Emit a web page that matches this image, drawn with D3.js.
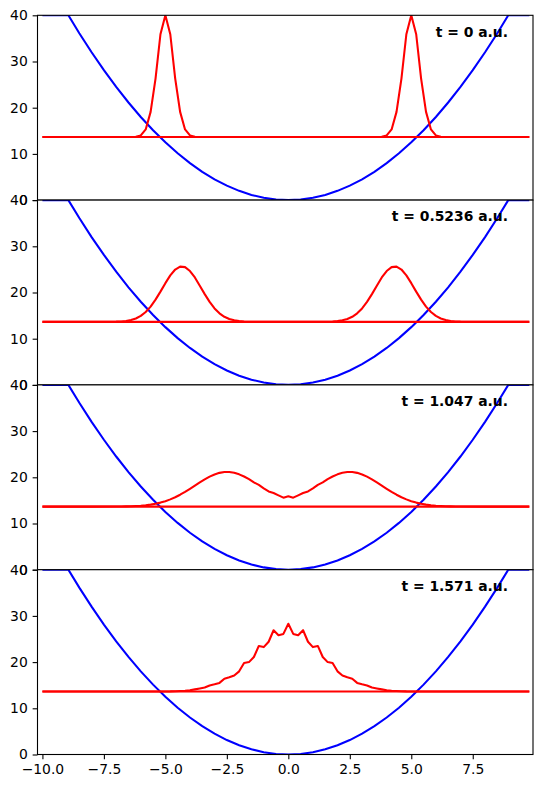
<!DOCTYPE html>
<html lang="en">
<head>
    <meta charset="UTF-8">
    <title>Wave packet in a harmonic potential</title>
    <script src="https://cdnjs.cloudflare.com/ajax/libs/d3/7.8.5/d3.min.js"></script>
    <style>
        body { margin: 0; background: white; }
        svg { display: block; font-family: "DejaVu Sans", sans-serif; }
    </style>
</head>
<body>
    <div id="chart"></div>

    <script>
        // harmonic potential (clipped at 40), same in every panel
        const potentialX = [-10, -8.944, -8.5, -8, -7.5, -7, -6.5, -6, -5.5, -5, -4.5, -4, -3.5, -3, -2.5, -2, -1.5, -1, -0.5,
            0, 0.5, 1, 1.5, 2, 2.5, 3, 3.5, 4, 4.5, 5, 5.5, 6, 6.5, 7, 7.5, 8, 8.5, 8.944, 9.8];
        const potentialY = [40, 40, 36.125, 32, 28.125, 24.5, 21.125, 18, 15.125, 12.5, 10.125, 8, 6.125, 4.5, 3.125, 2, 1.125, 0.5, 0.125,
            0, 0.125, 0.5, 1.125, 2, 3.125, 4.5, 6.125, 8, 10.125, 12.5, 15.125, 18, 21.125, 24.5, 28.125, 32, 36.125, 40, 40];

        // energy level (red horizontal line)
        const energyX = [-10, 9.8];
        const energyLevel = 13.65;

        const panelLabels = ["t = 0 a.u.", "t = 0.5236 a.u.", "t = 1.047 a.u.", "t = 1.571 a.u."];

        // probability density + energy, t = 0
        const densityX0 = [-10, -6.4, -6.2, -6.0, -5.8, -5.6, -5.4, -5.2, -5.0, -4.8, -4.6, -4.4, -4.2, -4.0, -3.8, -3.6,
            3.6, 3.8, 4.0, 4.2, 4.4, 4.6, 4.8, 5.0, 5.2, 5.4, 5.6, 5.8, 6.0, 6.2, 6.4, 9.8];
        const densityY0 = [13.65, 13.65, 13.7, 14.0, 15.3, 19.1, 26.3, 35.9, 40.0, 35.9, 26.3, 19.1, 15.3, 14.0, 13.7, 13.65,
            13.65, 13.7, 14.0, 15.3, 19.1, 26.3, 35.9, 40.0, 35.9, 26.3, 19.1, 15.3, 14.0, 13.7, 13.65, 13.65];

        // t = 0.5236
        const densityX1 = [-10, -7.0, -6.8, -6.6, -6.4, -6.2, -6.0, -5.8, -5.6, -5.4, -5.2, -5.0, -4.8, -4.6, -4.4, -4.2, -4.0,
            -3.8, -3.6, -3.4, -3.2, -3.0, -2.8, -2.6, -2.4, -2.2, -2.0, -1.8, -1.6,
            1.6, 1.8, 2.0, 2.2, 2.4, 2.6, 2.8, 3.0, 3.2, 3.4, 3.6, 3.8, 4.0, 4.2, 4.4, 4.6, 4.8, 5.0,
            5.2, 5.4, 5.6, 5.8, 6.0, 6.2, 6.4, 6.6, 6.8, 7.0, 9.8];
        const densityY1 = [13.65, 13.69, 13.74, 13.84, 14.04, 14.38, 14.93, 15.78, 16.95, 18.45, 20.19, 22.02, 23.7, 24.97, 25.6, 25.49, 24.65,
            23.25, 21.48, 19.65, 17.96, 16.56, 15.49, 14.74, 14.26, 13.97, 13.8, 13.72, 13.68,
            13.68, 13.72, 13.8, 13.97, 14.26, 14.74, 15.49, 16.56, 17.96, 19.65, 21.48, 23.25, 24.65, 25.49, 25.6, 24.97, 23.7, 22.02,
            20.19, 18.45, 16.95, 15.78, 14.93, 14.38, 14.04, 13.84, 13.74, 13.69, 13.65];

        // t = 1.047
        const densityX2 = [-10, -8.0, -7.0, -6.8, -6.6, -6.4, -6.2, -6.0, -5.8, -5.6, -5.4, -5.2, -5.0, -4.8, -4.6, -4.4, -4.2, -4.0,
            -3.8, -3.6, -3.4, -3.2, -3.0, -2.8, -2.6, -2.4, -2.2, -2.0, -1.8, -1.6, -1.4, -1.2, -1.0, -0.8, -0.6, -0.4, -0.2,
            0, 0.2, 0.4, 0.6, 0.8, 1.0, 1.2, 1.4, 1.6, 1.8, 2.0, 2.2, 2.4, 2.6, 2.8, 3.0, 3.2, 3.4, 3.6,
            3.8, 4.0, 4.2, 4.4, 4.6, 4.8, 5.0, 5.2, 5.4, 5.6, 5.8, 6.0, 6.2, 6.4, 6.6, 6.8, 7.0, 8.0, 9.8];
        const densityY2 = [13.65, 13.65, 13.67, 13.68, 13.7, 13.73, 13.78, 13.85, 13.95, 14.09, 14.27, 14.52, 14.83, 15.22, 15.68, 16.23, 16.84, 17.51,
            18.2, 18.89, 19.55, 20.14, 20.62, 20.96, 21.13, 21.14, 20.97, 20.64, 20.17, 19.6, 18.9, 18.35, 17.6, 16.95, 16.6, 16.1, 15.6,
            15.9, 15.6, 16.1, 16.6, 16.95, 17.6, 18.35, 18.9, 19.6, 20.17, 20.64, 20.97, 21.14, 21.13, 20.96, 20.62, 20.14, 19.55, 18.89,
            18.2, 17.51, 16.84, 16.23, 15.68, 15.22, 14.83, 14.52, 14.27, 14.09, 13.95, 13.85, 13.78, 13.73, 13.7, 13.68, 13.67, 13.65, 13.65];

        // t = 1.571
        const densityX3 = [-10, -4.8, -4.6, -4.4, -4.2, -4.0, -3.8, -3.6, -3.4, -3.2, -3.0, -2.8, -2.6, -2.4, -2.2, -2.0, -1.8, -1.6,
            -1.4, -1.2, -1.0, -0.8, -0.6, -0.4, -0.2, 0, 0.2, 0.4, 0.6, 0.8, 1.0, 1.2, 1.4,
            1.6, 1.8, 2.0, 2.2, 2.4, 2.6, 2.8, 3.0, 3.2, 3.4, 3.6, 3.8, 4.0, 4.2, 4.4, 4.6, 4.8, 9.8];
        const densityY3 = [13.65, 13.67, 13.7, 13.74, 13.8, 13.9, 14.1, 14.3, 14.5, 14.95, 15.2, 15.5, 16.4, 16.7, 17.1, 18.0, 19.8, 20.0,
            21.1, 23.5, 23.25, 24.4, 26.9, 25.8, 26.1, 28.3, 26.1, 25.8, 26.9, 24.4, 23.25, 23.5, 21.1,
            20.0, 19.8, 18.0, 17.1, 16.7, 16.4, 15.5, 15.2, 14.95, 14.5, 14.3, 14.1, 13.9, 13.8, 13.74, 13.7, 13.67, 13.65];

        const densityX = [densityX0, densityX1, densityX2, densityX3];
        const densityY = [densityY0, densityY1, densityY2, densityY3];

        const xTicks = [-10, -7.5, -5, -2.5, 0, 2.5, 5, 7.5];
        const yTicks = [0, 10, 20, 30, 40];

        const W = 543, H = 788;
        const margin = { top: 15.3, right: 10, bottom: 33.5, left: 37.5 };
        const width = W - margin.left - margin.right;
        const panelH = (H - margin.top - margin.bottom) / 4;

        const svg = d3.select("#chart")
            .append("svg")
            .attr("width", W)
            .attr("height", H);

        const x = d3.scaleLinear().domain([-10.2, 9.95]).range([0, width]);
        const y = d3.scaleLinear().domain([0, 40]).range([panelH, 0]);

        const line = d3.line()
            .x(d => x(d[0]))
            .y(d => y(d[1]));

        const zip = (xs, ys) => xs.map((v, i) => [v, ys[i]]);

        const tickLen = 4.86, tickPad = 4.86, fontSize = "13.9px";

        function styleAxis(g) {
            g.select(".domain").remove();
            g.selectAll(".tick line").attr("stroke", "black").attr("stroke-width", 1.1);
            g.selectAll(".tick text")
                .attr("fill", "black")
                .style("font-size", fontSize)
                .style("font-family", "DejaVu Sans, sans-serif");
        }

        panelLabels.forEach((label, i) => {
            const g = svg.append("g")
                .attr("transform", `translate(${margin.left},${margin.top + i * panelH})`);

            g.append("rect")
                .attr("width", width)
                .attr("height", panelH)
                .attr("fill", "white");

            g.append("clipPath")
                .attr("id", "clip" + i)
                .append("rect")
                .attr("width", width)
                .attr("height", panelH);

            const plot = g.append("g").attr("clip-path", `url(#clip${i})`);

            plot.append("path")
                .attr("d", line(zip(potentialX, potentialY)))
                .attr("fill", "none")
                .attr("stroke", "#0000ff")
                .attr("stroke-width", 2.08);

            plot.append("path")
                .attr("d", line(zip(energyX, energyX.map(() => energyLevel))))
                .attr("fill", "none")
                .attr("stroke", "#ff0000")
                .attr("stroke-width", 2.08);

            plot.append("path")
                .attr("d", line(zip(densityX[i], densityY[i])))
                .attr("fill", "none")
                .attr("stroke", "#ff0000")
                .attr("stroke-width", 2.08)
                .attr("stroke-linejoin", "round");

            // frame
            g.append("rect")
                .attr("width", width)
                .attr("height", panelH)
                .attr("fill", "none")
                .attr("stroke", "black")
                .attr("stroke-width", 1.1);

            g.append("g")
                .call(d3.axisLeft(y).tickValues(yTicks).tickSize(tickLen).tickPadding(tickPad).tickFormat(d3.format("d")))
                .call(styleAxis);

            g.append("text")
                .attr("x", 470.5)
                .attr("y", 21.4)
                .attr("text-anchor", "end")
                .attr("font-weight", "bold")
                .style("font-size", fontSize)
                .text(label);

            if (i === 3) {
                g.append("g")
                    .attr("transform", `translate(0,${panelH})`)
                    .call(d3.axisBottom(x).tickValues(xTicks).tickSize(tickLen).tickPadding(tickPad).tickFormat(d3.format(".1f")))
                    .call(styleAxis);
            }
        });
    </script>
</body>
</html>
